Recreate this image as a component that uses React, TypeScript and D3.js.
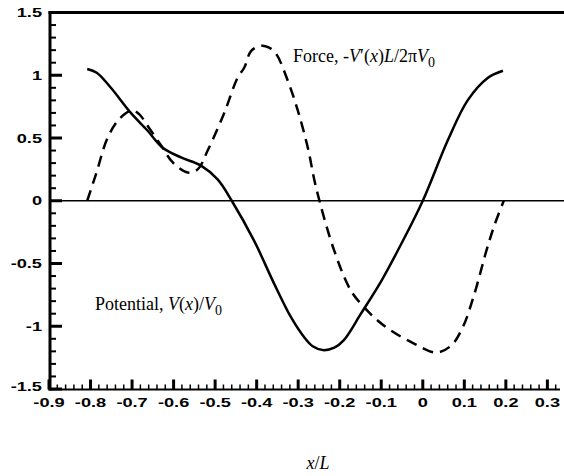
import React, { useEffect, useRef } from 'react';
import * as d3 from 'd3';

// values
const potentialX = [-0.808, -0.785, -0.751, -0.703, -0.663, -0.627, -0.582, -0.534, -0.494, -0.46, -0.406, -0.358, -0.317, -0.285, -0.265, -0.241, -0.213, -0.19, -0.149, -0.1, -0.052, 0.0, 0.06, 0.108, 0.157, 0.193];
const potentialY = [1.05, 1.02, 0.9, 0.7, 0.56, 0.425, 0.345, 0.28, 0.17, 0.0, -0.32, -0.66, -0.93, -1.09, -1.16, -1.19, -1.17, -1.11, -0.9, -0.64, -0.345, 0.0, 0.48, 0.8, 0.98, 1.036];

const forceX = [-0.808, -0.787, -0.759, -0.731, -0.7, -0.683, -0.659, -0.63, -0.602, -0.566, -0.542, -0.518, -0.478, -0.446, -0.43, -0.413, -0.389, -0.37, -0.353, -0.325, -0.301, -0.277, -0.257, -0.213, -0.173, -0.141, -0.108, -0.076, -0.02, 0.032, 0.068, 0.096, 0.124, 0.153, 0.173, 0.195];
const forceY = [0.0, 0.21, 0.5, 0.65, 0.72, 0.69, 0.58, 0.44, 0.305, 0.225, 0.25, 0.4, 0.7, 0.98, 1.06, 1.195, 1.235, 1.22, 1.17, 0.956, 0.72, 0.425, 0.106, -0.4, -0.717, -0.85, -0.956, -1.036, -1.14, -1.21, -1.155, -1.01, -0.745, -0.4, -0.19, 0.0];

const xTickValues = [-0.9, -0.8, -0.7, -0.6, -0.5, -0.4, -0.3, -0.2, -0.1, 0, 0.1, 0.2, 0.3];
const xTickLabels = ['-0.9', '-0.8', '-0.7', '-0.6', '-0.5', '-0.4', '-0.3', '-0.2', '-0.1', '0', '0.1', '0.2', '0.3'];
const yTickValues = [-1.5, -1, -0.5, 0, 0.5, 1, 1.5];
const yTickLabels = ['-1.5', '-1', '-0.5', '0', '0.5', '1', '1.5'];

const W = 564;
const H = 476;

const App: React.FC = () => {
  const svgRef = useRef<SVGSVGElement>(null);

  useEffect(() => {
    if (!svgRef.current) return;
    const svg = d3.select(svgRef.current);
    svg.selectAll('*').remove();

    const x = d3.scaleLinear().domain([-0.9, 0.34]).range([49, 564]);
    const y = d3.scaleLinear().domain([-1.5, 1.5]).range([389, 12.5]);
    const left = 50;
    const bottom = 389.5;
    const labelFont = '"Liberation Sans", Arial, sans-serif';
    const serif = '"Liberation Serif", "Times New Roman", serif';
    const isMajorY = (d: number) => Math.abs(d * 2 - Math.round(d * 2)) < 1e-6;
    const isMajorX = (d: number) => Math.abs(d * 10 - Math.round(d * 10)) < 1e-6;

    // zero line
    svg.append('line')
      .attr('x1', left).attr('x2', W)
      .attr('y1', y(0)).attr('y2', y(0))
      .attr('stroke', '#000').attr('stroke-width', 1.5);

    // top frame line
    svg.append('line')
      .attr('x1', left - 1.5).attr('x2', W)
      .attr('y1', y(1.5)).attr('y2', y(1.5))
      .attr('stroke', '#000').attr('stroke-width', 3);

    // left axis
    svg.append('line')
      .attr('x1', left).attr('x2', left)
      .attr('y1', y(1.5) - 1.5).attr('y2', bottom + 1)
      .attr('stroke', '#000').attr('stroke-width', 3);

    // bottom axis
    svg.append('line')
      .attr('x1', left - 1.5).attr('x2', W - 4)
      .attr('y1', bottom).attr('y2', bottom)
      .attr('stroke', '#000').attr('stroke-width', 2);

    // y minor + major ticks
    const yMinor = d3.range(-15, 16).map(d => d / 10);
    svg.append('g').selectAll('line').data(yMinor).join('line')
      .attr('x1', left).attr('x2', d => (isMajorY(d) ? left + 12 : left + 6))
      .attr('y1', d => y(d)).attr('y2', d => y(d))
      .attr('stroke', '#000')
      .attr('stroke-width', d => (isMajorY(d) ? 3 : 2));

    // x minor + major ticks
    const xMinor = d3.range(-45, 17).map(d => d / 50);
    svg.append('g').selectAll('line').data(xMinor).join('line')
      .attr('x1', d => x(d)).attr('x2', d => x(d))
      .attr('y1', bottom)
      .attr('y2', d => (isMajorX(d) ? bottom - 10 : bottom - 5))
      .attr('stroke', '#000')
      .attr('stroke-width', d => (isMajorX(d) ? 3 : 1.5));

    // y tick labels
    svg.append('g').selectAll('text').data(yTickValues).join('text')
      .attr('transform', d => `translate(42,${y(d) + (d === -1.5 ? -3 : 0)}) scale(1.4,1)`)
      .attr('dy', '0.36em')
      .attr('text-anchor', 'end')
      .style('font-family', labelFont)
      .style('font-weight', 'bold')
      .style('font-size', '13px')
      .text((d, i) => yTickLabels[i]);

    // x tick labels
    svg.append('g').selectAll('text').data(xTickValues).join('text')
      .attr('transform', d => `translate(${x(d)},407) scale(1.4,1)`)
      .attr('text-anchor', 'middle')
      .style('font-family', labelFont)
      .style('font-weight', 'bold')
      .style('font-size', '13px')
      .text((d, i) => xTickLabels[i]);

    const line = d3.line<[number, number]>()
      .x(d => x(d[0]))
      .y(d => y(d[1]))
      .curve(d3.curveCatmullRom.alpha(0.5));

    // Force (dashed)
    svg.append('path')
      .datum(forceX.map((v, i) => [v, forceY[i]] as [number, number]))
      .attr('fill', 'none')
      .attr('stroke', '#000')
      .attr('stroke-width', 2.5)
      .attr('stroke-dasharray', '11,7')
      .attr('d', line);

    // Potential (solid)
    svg.append('path')
      .datum(potentialX.map((v, i) => [v, potentialY[i]] as [number, number]))
      .attr('fill', 'none')
      .attr('stroke', '#000')
      .attr('stroke-width', 2.5)
      .attr('d', line);

    // annotations
    const force = svg.append('text')
      .attr('x', 293).attr('y', 62)
      .style('font-family', serif)
      .style('font-size', '18px');
    force.append('tspan').text('Force, -');
    force.append('tspan').style('font-style', 'italic').text('V');
    force.append('tspan').text('\u2032(');
    force.append('tspan').style('font-style', 'italic').text('x');
    force.append('tspan').text(')');
    force.append('tspan').style('font-style', 'italic').text('L');
    force.append('tspan').text('/2\u03c0');
    force.append('tspan').style('font-style', 'italic').text('V');
    force.append('tspan').attr('dy', 5).style('font-size', '14px').text('0');

    const pot = svg.append('text')
      .attr('x', 95).attr('y', 310)
      .style('font-family', serif)
      .style('font-size', '18px');
    pot.append('tspan').text('Potential, ');
    pot.append('tspan').style('font-style', 'italic').text('V');
    pot.append('tspan').text('(');
    pot.append('tspan').style('font-style', 'italic').text('x');
    pot.append('tspan').text(')/');
    pot.append('tspan').style('font-style', 'italic').text('V');
    pot.append('tspan').attr('dy', 5).style('font-size', '14px').text('0');

    // x axis title
    const xt = svg.append('text')
      .attr('x', 318).attr('y', 469)
      .attr('text-anchor', 'middle')
      .style('font-family', serif)
      .style('font-size', '18px');
    xt.append('tspan').style('font-style', 'italic').text('x');
    xt.append('tspan').text('/');
    xt.append('tspan').style('font-style', 'italic').text('L');
  }, []);

  return (
    <svg
      ref={svgRef}
      width={W}
      height={H}
      style={{ position: 'absolute', left: 0, top: 0, background: '#fff' }}
    />
  );
};

export default App;
